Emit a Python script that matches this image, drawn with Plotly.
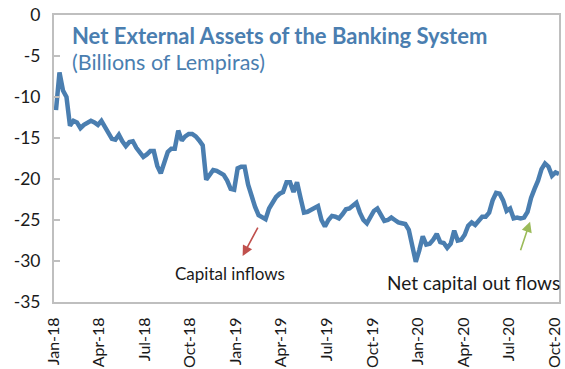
import pandas as pd
import plotly.graph_objects as go

# Weekly net external assets of the banking system (billions of lempiras)
start_date = "2018-01-05"
net_external_assets = [
    -11.6, -7.0, -9.2, -10.0, -13.5, -12.9, -13.1, -13.8, -13.4, -13.1,
    -12.9, -13.1, -13.4, -12.9, -13.7, -14.4, -15.1, -15.2, -14.6, -15.4,
    -16.0, -15.5, -15.4, -16.2, -16.8, -17.3, -17.0, -16.6, -16.6, -18.4,
    -19.3, -17.9, -16.7, -16.3, -16.3, -14.1, -15.3, -14.8, -14.5, -14.5,
    -14.8, -15.3, -15.9, -20.1, -19.5, -18.9, -19.0, -19.2, -19.5, -20.2,
    -21.2, -21.3, -18.7, -18.5, -18.5, -20.7, -22.2, -23.4, -24.4, -24.7,
    -24.9, -23.6, -22.8, -22.2, -21.8, -21.6, -20.4, -20.4, -21.6, -20.4,
    -22.3, -24.1, -24.0, -23.8, -23.6, -23.3, -25.0, -25.8, -25.0, -24.5,
    -24.6, -24.8, -24.3, -23.7, -23.6, -23.3, -22.9, -24.1, -25.0, -25.4,
    -24.6, -23.9, -23.6, -24.3, -25.1, -25.0, -24.7, -25.0, -25.3, -25.4,
    -25.5, -26.2, -28.3, -30.1, -28.7, -27.0, -28.0, -27.9, -27.4, -26.7,
    -27.7, -27.8, -28.4, -27.9, -26.3, -27.5, -27.4, -26.8, -25.7, -25.3,
    -25.6, -25.0, -24.6, -24.6, -24.1, -22.6, -21.7, -21.8, -22.6, -23.9,
    -23.6, -24.8, -24.7, -24.8, -24.7, -24.0, -22.3, -21.2, -20.2, -18.8,
    -18.1, -18.5, -19.6, -19.2, -19.4,
]
dates = pd.date_range(start_date, periods=len(net_external_assets), freq="7D")

y_ticks = [0, -5, -10, -15, -20, -25, -30, -35]
x_tick_dates = pd.date_range("2018-01-01", "2020-10-01", freq="3MS")
x_tick_labels = [d.strftime("%b-%y") for d in x_tick_dates]

title_text = "Net External Assets of the Banking System"
subtitle_text = "(Billions of Lempiras)"
inflow_label = "Capital inflows"
outflow_label = "Net capital out flows"

# Arrow tips (date, value)
inflow_tip = ("2019-01-14", -29.4)
outflow_tip = ("2020-08-12", -25.2)

BLUE = "#4a7eb0"
AXIS_GREY = "#bfbfbf"
FONT = "Lato"
TEXT = "#1a1a1a"

fig = go.Figure()
fig.add_trace(go.Scatter(
    x=dates, y=net_external_assets, mode="lines",
    line=dict(color=BLUE, width=4.5), hoverinfo="skip", showlegend=False,
))

fig.update_layout(
    width=565, height=369,
    margin=dict(l=54, r=6, t=15, b=67),
    paper_bgcolor="white", plot_bgcolor="white",
    font=dict(family=FONT, color=TEXT),
    showlegend=False,
)

fig.update_xaxes(
    range=[pd.Timestamp("2018-01-01"), dates[-1]],
    tickvals=x_tick_dates, ticktext=x_tick_labels, tickangle=-90,
    tickfont=dict(size=16, color=TEXT),
    showgrid=False, zeroline=False, automargin=False,
    showline=True, mirror=True, linecolor=AXIS_GREY, linewidth=2,
    ticks="", ticklabelstandoff=7,
)
fig.update_yaxes(
    range=[-35, 0], tickvals=y_ticks, ticktext=[str(v) for v in y_ticks],
    tickfont=dict(size=17.5, color=TEXT),
    showgrid=False, zeroline=False, automargin=False,
    showline=True, mirror=True, linecolor=AXIS_GREY, linewidth=2,
    ticks="inside", ticklen=6, tickcolor=AXIS_GREY, tickwidth=1.5,
    ticklabelstandoff=8,
)

# Title block inside the plot area
fig.add_annotation(
    xref="paper", yref="paper", x=0.031, y=0.928, xanchor="left", yanchor="middle",
    text=f"<b>{title_text}</b>", showarrow=False,
    font=dict(family=FONT, size=22, color=BLUE),
)
fig.add_annotation(
    xref="paper", yref="paper", x=0.031, y=0.835, xanchor="left", yanchor="middle",
    text=subtitle_text, showarrow=False,
    font=dict(family=FONT, size=21.5, color=BLUE),
)

# Arrows
fig.add_annotation(
    x=pd.Timestamp(inflow_tip[0]), y=inflow_tip[1], ax=16, ay=-30,
    text="", showarrow=True, arrowhead=2, arrowsize=1.3, arrowwidth=1.6,
    arrowcolor="#c0504d",
)
fig.add_annotation(
    x=pd.Timestamp(outflow_tip[0]), y=outflow_tip[1], ax=-10, ay=30,
    text="", showarrow=True, arrowhead=2, arrowsize=1.3, arrowwidth=1.6,
    arrowcolor="#9bbb59",
)

# Arrow captions
fig.add_annotation(
    x=pd.Timestamp("2018-12-20"), y=-31.5, text=inflow_label, showarrow=False,
    xanchor="center", yanchor="middle",
    font=dict(family=FONT, size=17, color=TEXT),
)
fig.add_annotation(
    x=pd.Timestamp("2020-10-09"), y=-32.6, text=outflow_label, showarrow=False,
    xanchor="right", yanchor="middle", xshift=3,
    font=dict(family=FONT, size=19, color=TEXT),
)

fig.write_html("out.html")
